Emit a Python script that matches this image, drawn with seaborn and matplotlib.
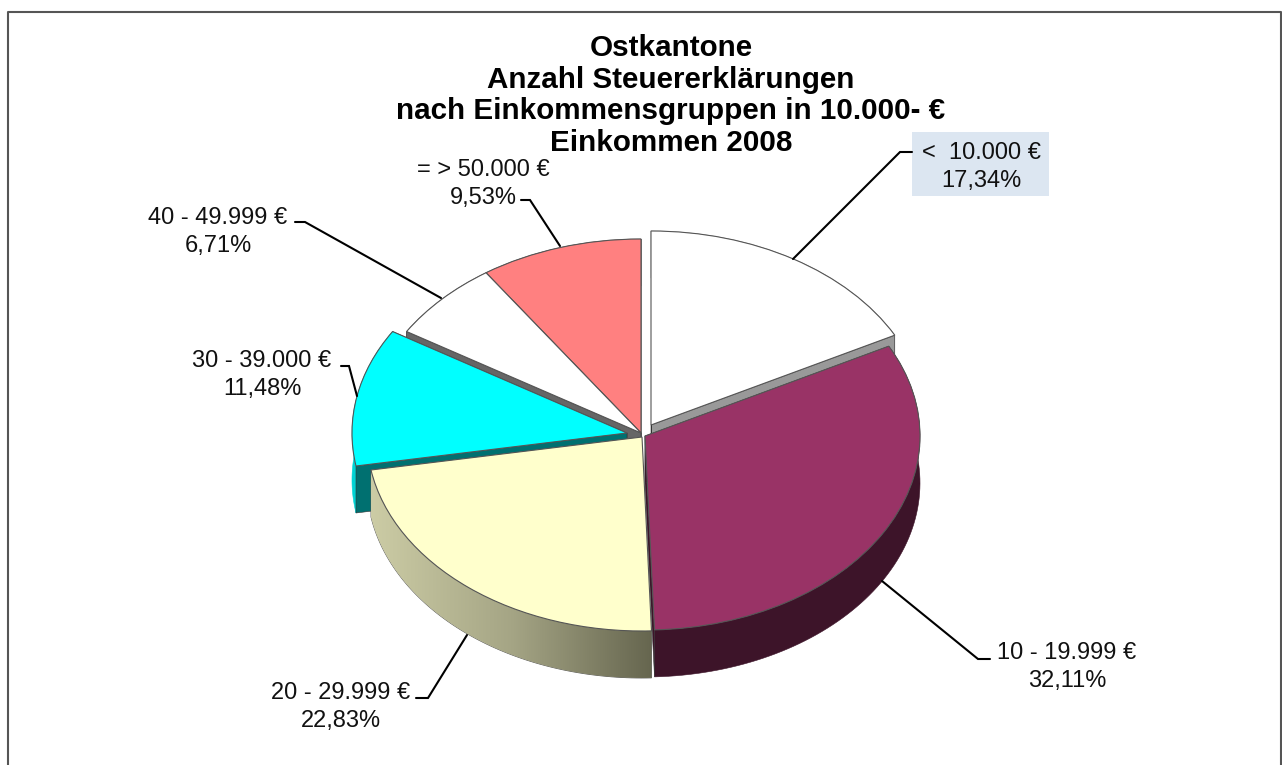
"""Ostkantone tax returns by income group, drawn as an Excel style 3D pie."""

import matplotlib

matplotlib.use("Agg")
import matplotlib.pyplot as plt
import numpy as np
import seaborn as sns
from matplotlib.patches import Polygon
from matplotlib.transforms import Affine2D

TITLE = (
    "Ostkantone\nAnzahl Steuererklärungen\n"
    "nach Einkommensgruppen in 10.000- €\nEinkommen 2008"
)
GROUPS = [
    "<  10.000 €",
    "10 - 19.999 €",
    "20 - 29.999 €",
    "30 - 39.000 €",
    "40 - 49.999 €",
    "= > 50.000 €",
]
SHARES = [17.34, 32.11, 22.83, 11.48, 6.71, 9.53]
SHARE_LABELS = ["17,34%", "32,11%", "22,83%", "11,48%", "6,71%", "9,53%"]
TOP_COLORS = ["#FFFFFF", "#993366", "#FFFFCC", "#00FFFF", "#FFFFFF", "#FF8080"]
RIM_COLORS = ["#999999", "#3D1429", None, "#00D4D4", "#666666", "#666666"]
CUT_COLORS = ["#999999", "#3D1429", None, "#007070", "#666666", "#666666"]

# layout in reference pixels
WIDTH, HEIGHT = 1282, 765
RX, RY, DEPTH = 275, 194, 47
APEX = [(651, 425), (645, 436), (642, 437), (627, 433), (641, 433), (641, 433)]
PAINT_ORDER = [5, 4, 0, 3, 1, 2]
LABEL_POS = [(981, 167), (1067, 667), (341, 707), (262, 375), (218, 232), (483, 184)]
LEADERS = [
    [(793, 259), (900, 152), (912, 152)],
    [(882, 581), (978, 659), (990, 659)],
    [(467, 635), (428, 698), (416, 698)],
    [(357, 396), (349, 366), (341, 366)],
    [(441, 298), (305, 222), (295, 222)],
    [(560, 246), (530, 200), (521, 200)],
]
GRADIENT_COLORS = ["#CCCCA5", "#A5A585", "#66664F"]


def ellipse_points(center, theta1, theta2, drop=0):
    angles = np.radians(np.linspace(theta1, theta2, 80))
    xs = center[0] + RX * np.cos(angles)
    ys = center[1] - RY * np.sin(angles) + drop
    return np.column_stack([xs, ys])


def draw_walls(ax, wedge, center, rim, cut, zorder):
    """Paint the rim and the two cut faces of a slice below its top face."""
    arc = ellipse_points(center, wedge.theta1, wedge.theta2)
    lower = arc + [0, DEPTH]
    rim_shape = np.vstack([arc, lower[::-1]])
    if rim is None:
        # rim of the front slice fades from light to dark, left to right
        cmap = sns.blend_palette(GRADIENT_COLORS, as_cmap=True)
        xs, ys = rim_shape[:, 0], rim_shape[:, 1]
        patch = Polygon(rim_shape, fc="none", ec="#555555", lw=0.6, zorder=zorder)
        ax.add_patch(patch)
        image = ax.imshow(
            [np.linspace(0, 1, 256)],
            cmap=cmap,
            aspect="auto",
            extent=(xs.min(), xs.max(), ys.max(), ys.min()),
            zorder=zorder,
        )
        image.set_clip_path(patch)
    else:
        ax.add_patch(Polygon(rim_shape, fc=rim, ec=rim, lw=0.4, zorder=zorder))
    if cut is None:
        return
    for end in (arc[0], arc[-1]):
        face = [center, end, end + [0, DEPTH], np.add(center, [0, DEPTH])]
        ax.add_patch(Polygon(face, fc=cut, ec="#333333", lw=0.4, zorder=zorder))


def main():
    sns.set_theme(style="white")
    plt.rcParams["font.family"] = ["Liberation Sans", "DejaVu Sans"]

    fig = plt.figure(figsize=(WIDTH / 100, HEIGHT / 100), dpi=100)
    ax = fig.add_axes([0, 0, 1, 1])

    wedges, _ = ax.pie(
        SHARES,
        colors=TOP_COLORS,
        startangle=90,
        counterclock=False,
        wedgeprops={"edgecolor": "#555555", "linewidth": 0.8},
    )
    for rank, idx in enumerate(PAINT_ORDER):
        wedge = wedges[idx]
        cx, cy = APEX[idx]
        draw_walls(ax, wedge, APEX[idx], RIM_COLORS[idx], CUT_COLORS[idx], 2 + 2 * rank)
        wedge.set_transform(
            Affine2D().scale(RX, -RY).translate(cx, cy) + ax.transData
        )
        wedge.set_zorder(3 + 2 * rank)

    ax.set_aspect("auto")
    ax.set_xlim(0, WIDTH)
    ax.set_ylim(HEIGHT, 0)
    ax.set_axis_off()

    # chart frame, open at the bottom
    ax.plot([7.5, 7.5, 1281, 1281], [HEIGHT, 12, 12, HEIGHT], color="#555555", lw=1.5)

    for idx, (group, pct) in enumerate(zip(GROUPS, SHARE_LABELS)):
        x, y = LABEL_POS[idx]
        ax.text(
            x,
            y,
            f"{group}\n{pct}",
            ha="center",
            va="center",
            fontsize=17,
            color="#111111",
            linespacing=1.3,
            zorder=30,
        )
        xs, ys = zip(*LEADERS[idx])
        ax.plot(xs, ys, color="black", lw=1.5, zorder=29, solid_joinstyle="miter")

    # highlighted first label
    ax.fill_between([912, 1049], 132, 196, color="#DCE6F1", lw=0, zorder=28)

    ax.text(
        671,
        95.5,
        TITLE,
        ha="center",
        va="center",
        fontsize=21.3,
        fontweight="bold",
        color="black",
        linespacing=1.18,
        zorder=30,
    )

    fig.savefig("out.png", dpi=100, facecolor="white")


if __name__ == "__main__":
    main()
